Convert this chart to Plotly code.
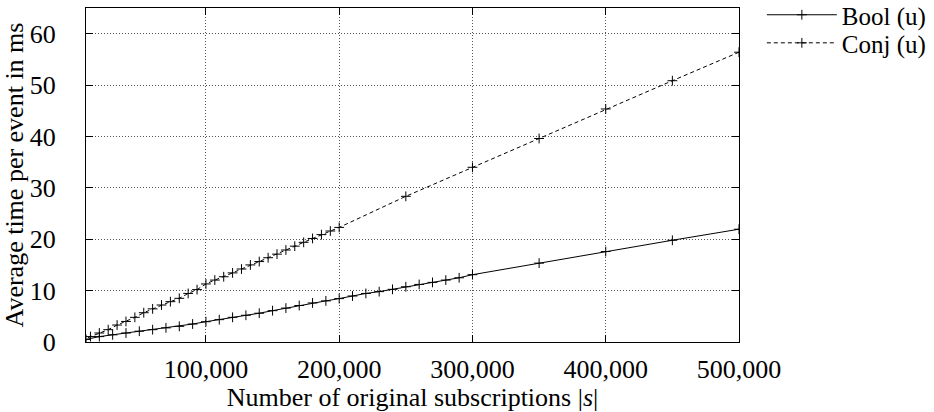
import plotly.graph_objects as go

# Number of original subscriptions |s|
bool_x = [10000, 20000, 30000, 40000, 50000, 60000, 70000, 80000, 90000, 100000,
          110000, 120000, 130000, 140000, 150000, 160000, 170000, 180000, 190000, 200000,
          210000, 220000, 230000, 240000, 250000, 260000, 270000, 280000, 290000, 300000,
          350000, 400000, 450000, 500000]
# Average time per event (ms), boolean matching
bool_ms = [0.5, 1.05, 1.4, 1.75, 2.1, 2.4, 2.75, 3.05, 3.5, 3.95,
           4.35, 4.8, 5.2, 5.6, 6.1, 6.6, 7.1, 7.6, 8.0, 8.45,
           8.95, 9.45, 9.8, 10.25, 10.75, 11.2, 11.6, 12.05, 12.5, 13.1,
           15.35, 17.6, 19.8, 21.95]

conj_x = [6667, 13333, 20000, 26667, 33333, 40000, 46667, 53333, 60000, 66667,
          73333, 80000, 86667, 93333, 100000, 106667, 113333, 120000, 126667, 133333,
          140000, 146667, 153333, 160000, 166667, 173333, 180000, 186667, 193333, 200000,
          250000, 300000, 350000, 400000, 450000, 500000]
# Average time per event (ms), conjunctive matching
conj_ms = [0.35, 1.05, 1.75, 2.4, 3.3, 4.0, 4.8, 5.7, 6.45, 7.2,
           7.85, 8.5, 9.45, 10.2, 11.3, 12.05, 12.7, 13.45, 14.2, 15.0,
           15.65, 16.4, 17.1, 17.9, 18.65, 19.4, 20.15, 20.9, 21.6, 22.3,
           28.35, 34.0, 39.6, 45.35, 50.85, 56.4]

x_ticks = [100000, 200000, 300000, 400000, 500000]
x_tick_labels = ["100,000", "200,000", "300,000", "400,000", "500,000"]
y_ticks = [0, 10, 20, 30, 40, 50, 60]

FONT = "Liberation Serif"
FS = 26
marker = dict(symbol="cross-thin", size=7, line=dict(color="black", width=1), color="black")

fig = go.Figure()
fig.add_trace(go.Scatter(x=bool_x, y=bool_ms, name="Bool (u)", mode="lines+markers",
                         line=dict(color="black", width=1), marker=marker,
                         legend="legend"))
fig.add_trace(go.Scatter(x=conj_x, y=conj_ms, name="Conj (u)", mode="lines+markers",
                         line=dict(color="black", width=1, dash="4px,3px"), marker=marker,
                         legend="legend2"))

axis_common = dict(
    showline=True, linecolor="black", linewidth=1, mirror="ticks",
    ticks="inside", ticklen=7, tickcolor="black", tickwidth=1,
    showgrid=True, gridcolor="#555555", griddash="1px,2px", gridwidth=1,
    zeroline=False, tickfont=dict(family=FONT, size=FS, color="black"),
)

# one legend box per series so the two entries can sit closer together
legend_common = dict(x=1.035, xanchor="left", yanchor="middle", bgcolor="rgba(0,0,0,0)",
                     itemwidth=70, font=dict(family=FONT, size=25, color="black"))

fig.update_layout(
    width=934, height=412,
    margin=dict(l=86, r=195, t=8, b=70, autoexpand=False),
    paper_bgcolor="white", plot_bgcolor="white",
    font=dict(family=FONT, size=FS, color="black"),
    showlegend=True,
    legend=dict(y=0.979, **legend_common),
    legend2=dict(y=0.895, **legend_common),
    xaxis=dict(range=[10000, 500000], tickvals=x_ticks, ticktext=x_tick_labels,
               ticklabelstandoff=4,
               title=dict(text="Number of original subscriptions |<i>s</i>|", standoff=2,
                          font=dict(family=FONT, size=FS)),
               **axis_common),
    yaxis=dict(range=[0, 65], tickvals=y_ticks, ticklabelstandoff=24,
               title=dict(text="Average time per event in ms", standoff=0,
                          font=dict(family=FONT, size=FS)),
               **axis_common),
)

fig.write_html("out.html")
